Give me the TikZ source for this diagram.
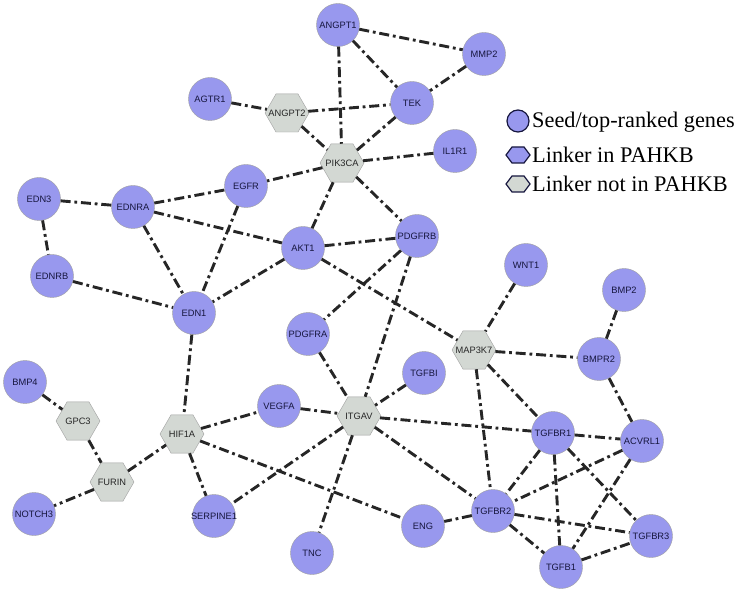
\documentclass[tikz,border=0pt]{standalone}
\usepackage{fontspec}
\setmainfont{Liberation Serif}
\setsansfont{Liberation Sans}
\usetikzlibrary{shapes.geometric}
\definecolor{seedblue}{RGB}{152,152,238}
\definecolor{linkgray}{RGB}{211,216,211}
\definecolor{edgegray}{RGB}{38,38,38}
\definecolor{labelnavy}{RGB}{22,22,62}
\tikzset{
  gene/.style={circle,draw=gray!75,fill=seedblue,minimum size=43pt,inner sep=0pt,
    font=\sffamily\fontsize{9.3}{10}\selectfont,text=labelnavy},      % seed / top-ranked
  linker/.style={regular polygon,regular polygon sides=6,draw=gray!75,fill=linkgray,
    minimum size=44pt,inner sep=0pt,inner xsep=-6pt,font=\sffamily\fontsize{9.3}{10}\selectfont,text=black!85},
  ppi/.style={edgegray,line width=2.9pt,dash pattern=on 10pt off 3.8pt on 2.8pt off 3.8pt},
  keysym/.style={draw=labelnavy,line width=1.2pt},
  keytext/.style={anchor=base west,inner sep=0pt,font=\fontsize{22.3}{24}\selectfont},
}
\begin{document}
\begin{tikzpicture}[x=1pt,y=-1pt]
  \useasboundingbox (0,0) rectangle (736,593);
  % upper part
  \node[gene] (angpt1) at (338,25) {ANGPT1};
  \node[gene] (mmp2) at (484,54) {MMP2};
  \node[gene] (agtr1) at (210,99) {AGTR1};
  \node[linker] (angpt2) at (287,113) {ANGPT2};
  \node[gene] (tek) at (412,103) {TEK};
  \node[linker] (pik3ca) at (342,163) {PIK3CA};
  \node[gene] (il1r1) at (455,151) {IL1R1};
  \node[gene] (edn3) at (39,199) {EDN3};
  \node[gene] (ednra) at (133,207) {EDNRA};
  \node[gene] (egfr) at (246,186) {EGFR};
  \node[gene] (akt1) at (303,248) {AKT1};
  \node[gene] (pdgfrb) at (417,236) {PDGFRB};
  \node[gene] (ednrb) at (52,276) {EDNRB};
  \node[gene] (wnt1) at (526,265) {WNT1};
  \node[gene] (bmp2) at (624,290) {BMP2};
  \node[gene] (edn1) at (194,313) {EDN1};
  % middle
  \node[gene] (pdgfra) at (308,334) {PDGFRA};
  \node[linker] (map3k7) at (474,350) {MAP3K7};
  \node[gene] (bmpr2) at (599,359) {BMPR2};
  \node[gene] (tgfbi) at (424,373) {TGFBI};
  \node[gene] (bmp4) at (25,382) {BMP4};
  \node[gene] (vegfa) at (279,406) {VEGFA};
  \node[linker] (itgav) at (359,416) {ITGAV};
  \node[linker] (gpc3) at (78,421) {GPC3};
  \node[linker] (hif1a) at (182,434) {HIF1A};
  % lower part
  \node[gene] (tgfbr1) at (553,433) {TGFBR1};
  \node[gene] (acvrl1) at (642,441) {ACVRL1};
  \node[linker] (furin) at (112,482) {FURIN};
  \node[gene] (tgfbr2) at (493,511) {TGFBR2};
  \node[gene] (notch3) at (34,514) {NOTCH3};
  \node[gene,inner xsep=-2pt] (serpine1) at (214,516) {SERPINE1};
  \node[gene] (eng) at (423,526) {ENG};
  \node[gene] (tgfbr3) at (651,536) {TGFBR3};
  \node[gene] (tnc) at (312,553) {TNC};
  \node[gene] (tgfb1) at (561,567) {TGFB1};

  % interactions
  \draw[ppi] (angpt1) -- (mmp2); \draw[ppi] (angpt1) -- (tek); \draw[ppi] (angpt1) -- (pik3ca);
  \draw[ppi] (mmp2) -- (tek); \draw[ppi] (agtr1) -- (angpt2); \draw[ppi] (angpt2) -- (tek);
  \draw[ppi] (angpt2) -- (pik3ca); \draw[ppi] (tek) -- (pik3ca); \draw[ppi] (pik3ca) -- (il1r1);
  \draw[ppi] (pik3ca) -- (egfr); \draw[ppi] (pik3ca) -- (akt1); \draw[ppi] (pik3ca) -- (pdgfrb);
  \draw[ppi] (edn3) -- (ednra); \draw[ppi] (edn3) -- (ednrb); \draw[ppi] (ednra) -- (egfr);
  \draw[ppi] (ednra) -- (akt1); \draw[ppi] (ednra) -- (edn1); \draw[ppi] (egfr) -- (edn1);
  \draw[ppi] (akt1) -- (pdgfrb); \draw[ppi] (akt1) -- (edn1); \draw[ppi] (akt1) -- (map3k7);
  \draw[ppi] (ednrb) -- (edn1); \draw[ppi] (pdgfrb) -- (pdgfra); \draw[ppi] (pdgfrb) -- (itgav);
  \draw[ppi] (edn1) -- (hif1a); \draw[ppi] (pdgfra) -- (itgav); \draw[ppi] (wnt1) -- (map3k7);
  \draw[ppi] (bmp2) -- (bmpr2); \draw[ppi] (map3k7) -- (bmpr2); \draw[ppi] (map3k7) -- (tgfbr1);
  \draw[ppi] (map3k7) -- (tgfbr2); \draw[ppi] (tgfbi) -- (itgav); \draw[ppi] (vegfa) -- (itgav);
  \draw[ppi] (hif1a) -- (vegfa); \draw[ppi] (itgav) -- (tgfbr1); \draw[ppi] (itgav) -- (tgfbr2);
  \draw[ppi] (itgav) -- (serpine1); \draw[ppi] (itgav) -- (tnc);
  \draw[ppi] (bmp4) -- (gpc3); \draw[ppi] (gpc3) -- (furin); \draw[ppi] (furin) -- (notch3);
  \draw[ppi] (furin) -- (hif1a); \draw[ppi] (hif1a) -- (serpine1); \draw[ppi] (hif1a) -- (eng);
  % TGF-beta cluster
  \draw[ppi] (bmpr2) -- (acvrl1); \draw[ppi] (tgfbr1) -- (acvrl1); \draw[ppi] (tgfbr1) -- (tgfbr2);
  \draw[ppi] (tgfbr1) -- (tgfb1); \draw[ppi] (tgfbr1) -- (tgfbr3); \draw[ppi] (acvrl1) -- (tgfbr2);
  \draw[ppi] (acvrl1) -- (tgfb1); \draw[ppi] (tgfbr2) -- (eng); \draw[ppi] (tgfbr2) -- (tgfbr3);
  \draw[ppi] (tgfbr2) -- (tgfb1); \draw[ppi] (tgfb1) -- (tgfbr3);

  % legend
  \draw[keysym,fill=seedblue] (518,121) circle (11);
  \node[keytext] (keyseed) at (532,128) {Seed/top-ranked genes};
  \draw[keysym,fill=seedblue] (518,155) ++(-12,0) -- ++(6,-8) -- ++(12,0) -- ++(6,8) -- ++(-6,8) -- ++(-12,0) -- cycle;
  \node[keytext] (keyin) at (532,163) {Linker in PAHKB};
  \draw[keysym,fill=linkgray] (518,184) ++(-12,0) -- ++(6,-8) -- ++(12,0) -- ++(6,8) -- ++(-6,8) -- ++(-12,0) -- cycle;
  \node[keytext] (keynot) at (532,192) {Linker not in PAHKB};
\end{tikzpicture}
\end{document}
